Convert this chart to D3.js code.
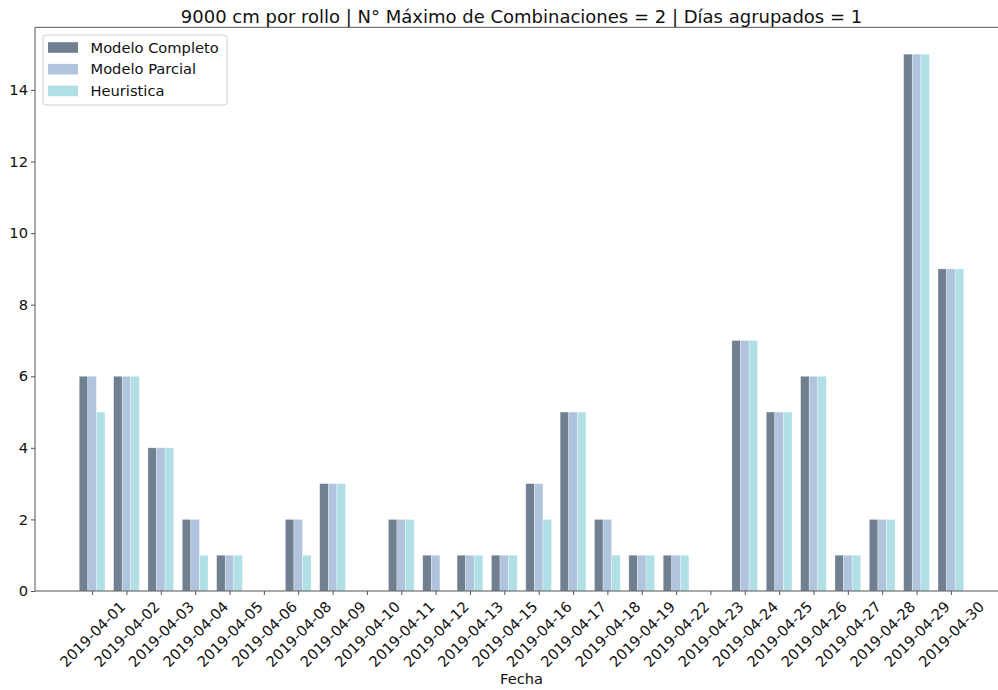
<!DOCTYPE html>
<html>
<head>
<meta charset="utf-8">
<script src="https://cdn.jsdelivr.net/npm/d3@7"></script>
<style>
  html, body { margin: 0; padding: 0; background: #fff; }
  svg { display: block; }
  text { font-family: "DejaVu Sans", sans-serif; }
</style>
</head>
<body>
<svg id="chart" width="998" height="690"></svg>
<script>
const titleText = "9000 cm por rollo | N° Máximo de Combinaciones = 2 | Días agrupados = 1";
const xLabel = "Fecha";
const dates = ["2019-04-01","2019-04-02","2019-04-03","2019-04-04","2019-04-05","2019-04-06",
  "2019-04-08","2019-04-09","2019-04-10","2019-04-11","2019-04-12","2019-04-13","2019-04-15",
  "2019-04-16","2019-04-17","2019-04-18","2019-04-19","2019-04-22","2019-04-23","2019-04-24",
  "2019-04-25","2019-04-26","2019-04-27","2019-04-28","2019-04-29","2019-04-30"];
const seriesNames = ["Modelo Completo", "Modelo Parcial", "Heuristica"];
const completo   = [6,6,4,2,1,0,2,3,0,2,1,1,1,3,5,2,1,1,0,7,5,6,1,2,15,9];
const parcial    = [6,6,4,2,1,0,2,3,0,2,1,1,1,3,5,2,1,1,0,7,5,6,1,2,15,9];
const heuristica = [5,6,4,1,1,0,1,3,0,2,0,1,1,2,5,1,1,1,0,7,5,6,1,2,15,9];
const yTicks = [0,2,4,6,8,10,12,14];
const colors = ["#708090", "#b0c4de", "#b0e0e6"];

(function () {
const series = [completo, parcial, heuristica];
const barW = 0.25;
const n = dates.length;

const svg = d3.select("#chart");
const pLeft = 35, pRight = 1008, pTop = 27.3, pBottom = 591;

const x = d3.scaleLinear()
  .domain([-0.375 - 0.05 * (n - 1 + 0.75), n - 1 + 0.375 + 0.05 * (n - 1 + 0.75)])
  .range([pLeft, pRight]);
const y = d3.scaleLinear().domain([0, 15.75]).range([pBottom, pTop]);

// bars
series.forEach((vals, si) => {
  const off = (si - 1) * barW;
  svg.append("g").selectAll("rect").data(vals).join("rect")
    .attr("x", (d, i) => x(i + off - barW / 2))
    .attr("width", x(barW) - x(0))
    .attr("y", d => y(d))
    .attr("height", d => y(0) - y(d))
    .attr("fill", colors[si])
    .attr("stroke", "#ffffff")
    .attr("stroke-opacity", 0.5)
    .attr("stroke-width", 0.6);
});

// y axis
const yAxis = svg.append("g")
  .attr("transform", `translate(${pLeft},0)`)
  .call(d3.axisLeft(y).tickValues(yTicks).tickFormat(d3.format("d")).tickSize(4).tickPadding(3));
yAxis.select(".domain").remove();
yAxis.selectAll(".tick line").attr("stroke", "#555");
yAxis.selectAll(".tick text").attr("font-size", "14.67px").attr("fill", "#111")
  .style("font-family", "DejaVu Sans");

// x axis
const xAxis = svg.append("g")
  .attr("transform", `translate(0,${pBottom})`)
  .call(d3.axisBottom(x).tickValues(d3.range(n)).tickFormat(i => dates[i]).tickSize(4).tickPadding(0));
xAxis.select(".domain").remove();
xAxis.selectAll(".tick line").attr("stroke", "#555");
xAxis.selectAll(".tick text")
  .attr("font-size", "14.67px").attr("fill", "#111")
  .style("font-family", "DejaVu Sans")
  .attr("text-anchor", "middle")
  .attr("y", 0).attr("dy", "0.35em")
  .each(function () {
    const w = this.getComputedTextLength();
    const h = 14.67 * 1.17;
    const s = (w + h) * Math.SQRT1_2;
    d3.select(this).attr("transform", `translate(0,${7 + s / 2}) rotate(-45)`);
  });

// spines
const spineColor = "#555";
svg.append("line").attr("x1", pLeft).attr("x2", pLeft).attr("y1", pTop).attr("y2", pBottom)
  .attr("stroke", spineColor).attr("stroke-width", 1);
svg.append("line").attr("x1", pLeft).attr("x2", pRight).attr("y1", pBottom).attr("y2", pBottom)
  .attr("stroke", spineColor).attr("stroke-width", 1);
svg.append("line").attr("x1", pLeft).attr("x2", pRight).attr("y1", pTop).attr("y2", pTop)
  .attr("stroke", spineColor).attr("stroke-width", 1);
svg.append("line").attr("x1", pRight).attr("x2", pRight).attr("y1", pTop).attr("y2", pBottom)
  .attr("stroke", spineColor).attr("stroke-width", 1);

// title
svg.append("text")
  .attr("x", (pLeft + pRight) / 2).attr("y", 23)
  .attr("text-anchor", "middle")
  .attr("font-size", "18px").attr("fill", "#111")
  .text(titleText);

// x label
svg.append("text")
  .attr("x", (pLeft + pRight) / 2).attr("y", 684)
  .attr("text-anchor", "middle")
  .attr("font-size", "14.67px").attr("fill", "#111")
  .text(xLabel);

// legend
const lg = svg.append("g");
lg.append("rect")
  .attr("x", 43).attr("y", 35).attr("width", 184).attr("height", 70)
  .attr("rx", 3).attr("fill", "#fff").attr("fill-opacity", 0.8)
  .attr("stroke", "#d0d0d0").attr("stroke-width", 1);
const rowsY = [47.5, 69.2, 90.9];
seriesNames.forEach((name, i) => {
  lg.append("rect")
    .attr("x", 48).attr("y", rowsY[i] - 5.3).attr("width", 30).attr("height", 10.6)
    .attr("fill", colors[i]);
  lg.append("text")
    .attr("x", 90.5).attr("y", rowsY[i]).attr("dy", "0.35em")
    .attr("font-size", "14.67px").attr("fill", "#111")
    .text(name);
});
})();
</script>
</body>
</html>
